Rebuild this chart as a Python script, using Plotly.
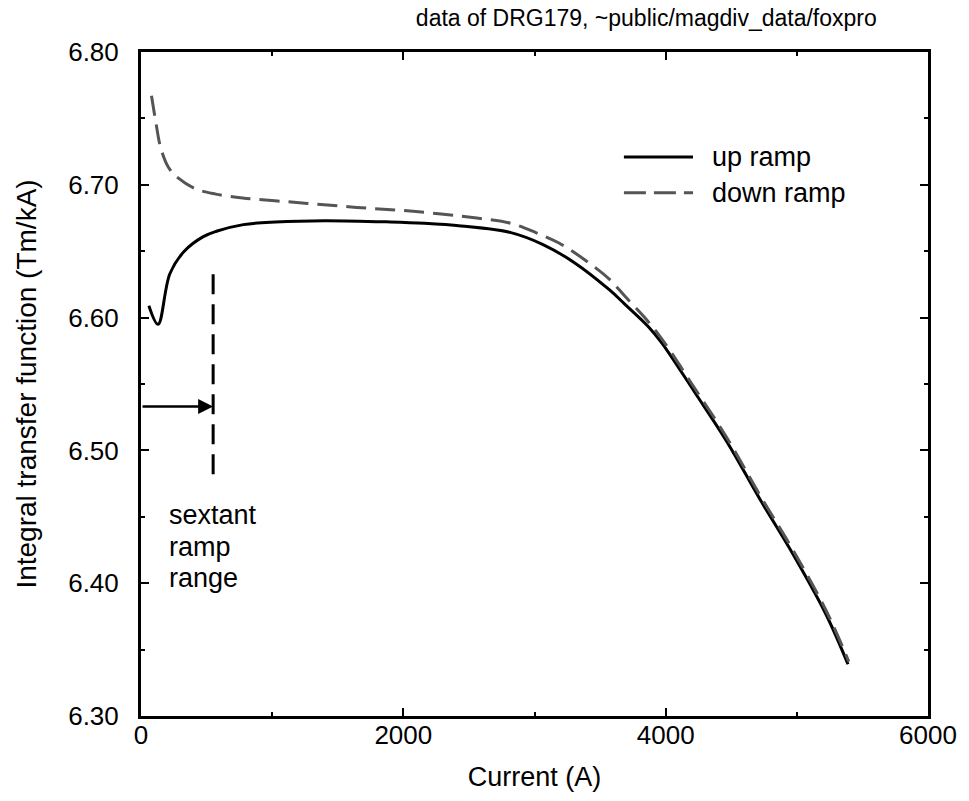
import plotly.graph_objects as go

# ---- data ----
up_current = [60, 130, 220, 330, 475, 575, 780, 1025, 1400, 1900, 2160, 2440,
              2820, 3065, 3310, 3570, 3690, 3870, 3970, 4220, 4470, 4720, 4970,
              5220, 5390]
up_itf = [6.609, 6.595, 6.633, 6.650, 6.661, 6.665, 6.670, 6.672, 6.673, 6.672,
          6.671, 6.669, 6.664, 6.655, 6.641, 6.621, 6.610, 6.593, 6.581, 6.544,
          6.506, 6.463, 6.422, 6.377, 6.339]

down_current = [80, 115, 150, 210, 285, 415, 570, 775, 1020, 1270, 1645, 2075,
                2560, 2820, 3010, 3190, 3390, 3570, 3690, 3840, 3970, 4220, 4470,
                4720, 4970, 5220, 5396]
down_itf = [6.767, 6.746, 6.728, 6.713, 6.705, 6.697, 6.693, 6.690, 6.688, 6.686,
            6.683, 6.680, 6.675, 6.671, 6.664, 6.656, 6.643, 6.629, 6.616, 6.600,
            6.584, 6.547, 6.509, 6.466, 6.425, 6.380, 6.341]

sextant_limit_current = [550, 550]
sextant_limit_itf = [6.482, 6.633]
arrow_itf = 6.533
sextant_label_lines = ["sextant", "ramp", "range"]
sextant_label_itf = [6.451, 6.427, 6.404]
sextant_label_current = 200

x_tickvals = [0, 2000, 4000, 6000]
y_tickvals = [6.30, 6.40, 6.50, 6.60, 6.70, 6.80]
y_ticktext = ["6.30", "6.40", "6.50", "6.60", "6.70", "6.80"]

series_names = ["up ramp", "down ramp"]

FONT = "Liberation Sans, Arial, Helvetica, sans-serif"

fig = go.Figure()
fig.add_trace(go.Scatter(x=up_current, y=up_itf, mode="lines", name=series_names[0],
                         line=dict(color="black", width=3, shape="spline", smoothing=1.0),
                         showlegend=False))
fig.add_trace(go.Scatter(x=down_current, y=down_itf, mode="lines", name=series_names[1],
                         line=dict(color="#555555", width=3, dash="20px,9px",
                                   shape="spline", smoothing=1.0),
                         showlegend=False))
fig.add_trace(go.Scatter(x=sextant_limit_current, y=sextant_limit_itf, mode="lines",
                         line=dict(color="black", width=3, dash="20px,10px"),
                         showlegend=False, hoverinfo="skip"))

# arrow from the axis to the sextant limit
fig.add_annotation(x=sextant_limit_current[0], y=arrow_itf, ax=0, ay=arrow_itf,
                   xref="x", yref="y", axref="x", ayref="y", text="",
                   showarrow=True, arrowhead=2, arrowsize=1.2, arrowwidth=2.5,
                   arrowcolor="black")

for line_text, yv in zip(sextant_label_lines, sextant_label_itf):
    fig.add_annotation(x=sextant_label_current, y=yv, xref="x", yref="y",
                       text=line_text, showarrow=False, xanchor="left",
                       yanchor="middle", font=dict(family=FONT, size=27, color="black"))

# manual legend (long line samples as in the original)
legend_rows = [(0.842, dict(color="black", width=3)),
               (0.788, dict(color="#555555", width=3, dash="22px,8px"))]
for (ypos, lstyle), name in zip(legend_rows, series_names):
    fig.add_shape(type="line", xref="paper", yref="paper", x0=0.6136, x1=0.7014,
                  y0=ypos, y1=ypos, line=lstyle)
    fig.add_annotation(x=0.7227, y=ypos, xref="paper", yref="paper", text=name,
                       showarrow=False, xanchor="left", yanchor="middle",
                       font=dict(family=FONT, size=27, color="black"))

fig.update_layout(
    width=969, height=801,
    margin=dict(l=141, r=31, t=52, b=85),
    paper_bgcolor="white", plot_bgcolor="white",
    font=dict(family=FONT, color="black"),
    title=dict(text="data of DRG179, ~public/magdiv_data/foxpro",
               x=0.667, xref="container", xanchor="center",
               y=0.978, yref="container", yanchor="middle",
               font=dict(family=FONT, size=23, color="black")),
    showlegend=False,
)
fig.update_xaxes(range=[0, 6000], tickvals=x_tickvals, ticks="inside", ticklen=8,
                 tickwidth=2, tickcolor="black", showline=True, linewidth=3,
                 linecolor="black", mirror="allticks", showgrid=False, zeroline=False,
                 minor=dict(dtick=1000, ticks="inside", ticklen=4, tickwidth=1.5,
                            tickcolor="black", showgrid=False),
                 tickfont=dict(family=FONT, size=26), ticklabelstandoff=-6,
                 title=dict(text="Current (A)", font=dict(family=FONT, size=27), standoff=18))
fig.update_yaxes(range=[6.30, 6.80], tickvals=y_tickvals, ticktext=y_ticktext,
                 ticks="inside", ticklen=8, tickwidth=2, tickcolor="black",
                 showline=True, linewidth=3, linecolor="black", mirror="allticks",
                 showgrid=False, zeroline=False,
                 minor=dict(dtick=0.05, tick0=6.30, ticks="inside", ticklen=4, tickwidth=1.5,
                            tickcolor="black", showgrid=False),
                 tickfont=dict(family=FONT, size=26), ticklabelstandoff=14,
                 title=dict(text="Integral transfer function (Tm/kA)",
                            font=dict(family=FONT, size=28), standoff=24))

fig.write_html("out.html")
